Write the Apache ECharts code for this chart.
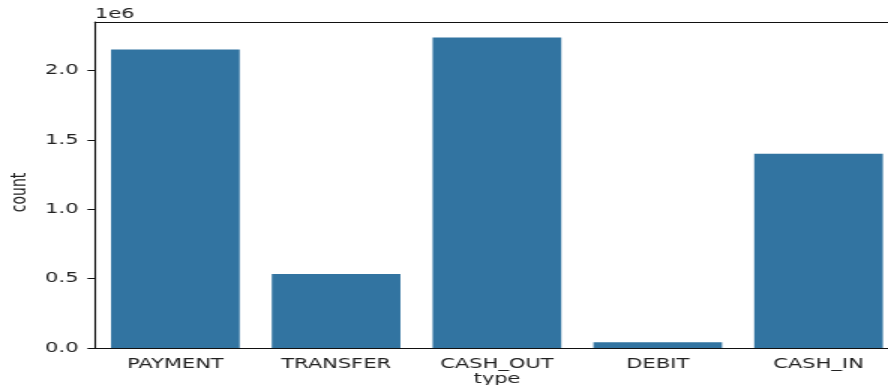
<!DOCTYPE html>
<html>
<head>
<meta charset="utf-8">
<script src="https://cdn.jsdelivr.net/npm/echarts@6/dist/echarts.min.js"></script>
<style>
  html, body { margin: 0; padding: 0; background: #fff; overflow: hidden; }
  /* la figura original esta estirada 1.5x en horizontal */
  #grafica { width: 592px; height: 385px; transform: scaleX(1.5); transform-origin: 0 0; }
</style>
</head>
<body>
<div id="grafica"></div>
<script>
// datos del countplot
const tipos = ['PAYMENT', 'TRANSFER', 'CASH_OUT', 'DEBIT', 'CASH_IN'];
const conteos = [2151495, 532909, 2237500, 41432, 1399284];
const ticks_y = [0, 500000, 1000000, 1500000, 2000000];
const max_y = 2349375;

let grafica = echarts.init(document.querySelector('#grafica'));

const fuente = 'DejaVu Sans';
const color_texto = '#222';

let option = {
    animation: false,
    grid: { left: 63.3, width: 536, top: 22, bottom: 37, outerBoundsMode: 'none' },
    xAxis: [
        {
            type: 'category',
            data: tipos,
            name: 'type',
            nameLocation: 'middle',
            nameGap: 24,
            nameMoveOverlap: false,
            nameTextStyle: { fontFamily: fuente, fontSize: 14, color: color_texto },
            axisLine: { lineStyle: { color: '#111', width: 1.1 } },
            axisTick: { alignWithLabel: true, length: 5, lineStyle: { color: '#111', width: 1 } },
            axisLabel: { fontFamily: fuente, fontSize: 14, color: color_texto, margin: 9 }
        },
        {
            // linea de arriba (spine)
            type: 'category',
            data: tipos,
            position: 'top',
            axisLine: { lineStyle: { color: '#111', width: 1.1 } },
            axisTick: { show: false },
            axisLabel: { show: false }
        }
    ],
    yAxis: {
        type: 'value',
        min: 0,
        max: max_y,
        interval: 500000,
        name: '1e6',
        nameLocation: 'end',
        nameGap: 1,
        nameMoveOverlap: false,
        nameTextStyle: { fontFamily: fuente, fontSize: 14, color: color_texto, align: 'left', verticalAlign: 'bottom' },
        splitLine: { show: false },
        axisLine: { show: true, lineStyle: { color: '#111', width: 1.1 } },
        axisTick: { show: true, length: 5, customValues: ticks_y, lineStyle: { color: '#111', width: 1 } },
        axisLabel: {
            fontFamily: fuente, fontSize: 14, color: color_texto, margin: 11,
            customValues: ticks_y,
            formatter: (v) => (v / 1e6).toFixed(1)
        }
    },
    graphic: [
        {
            type: 'text',
            left: 6,
            top: 'middle',
            rotation: Math.PI / 2,
            style: { text: 'count', font: '14px DejaVu Sans', fill: color_texto }
        }
    ],
    series: [
        {
            type: 'bar',
            data: conteos,
            barCategoryGap: '20%',
            itemStyle: { color: '#3274a1' }
        }
    ]
};

grafica.setOption(option);
</script>
</body>
</html>
